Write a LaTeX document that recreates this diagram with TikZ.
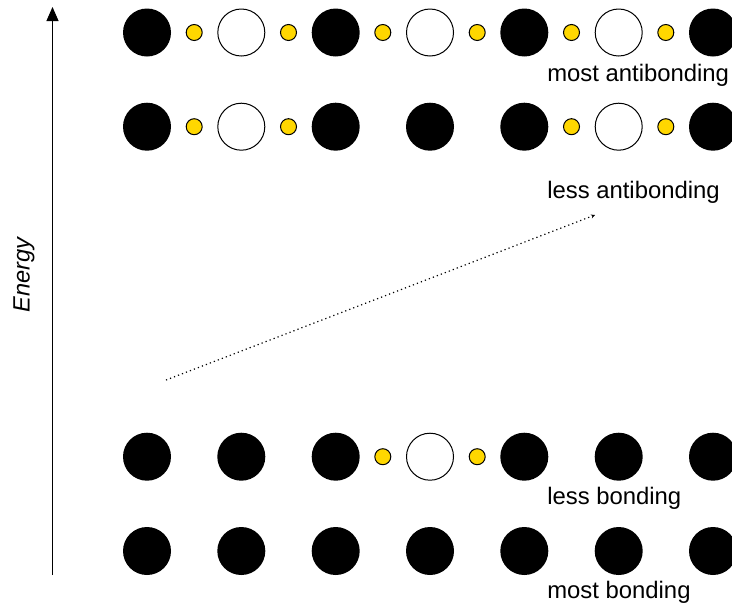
\documentclass[tikz,border=0pt]{standalone}
\usepackage{fontspec}
\setmainfont{Liberation Sans}
\usetikzlibrary{arrows.meta}
\definecolor{goldfill}{RGB}{255,215,0}

\begin{document}
\begin{tikzpicture}[x=0.75pt,y=0.75pt,yscale=-1,xscale=1,
  atomblack/.style={circle,fill=black,inner sep=0pt,minimum size=36pt},
  atomwhite/.style={circle,draw=black,fill=white,line width=0.75pt,inner sep=0pt,minimum size=35.25pt},
  bridge/.style={circle,draw=black,fill=goldfill,line width=0.75pt,inner sep=0pt,minimum size=12pt},
  lvltext/.style={anchor=base west,inner sep=0pt,font=\fontsize{17.9}{21}\selectfont}]
%set diagram to 732 x 604
\clip (0,0) rectangle (732,604);

%Energy axis
\coordinate (ebot) at (52.5,575);
\coordinate (etop) at (52.5,7);
\draw [line width=0.75pt,-{Triangle[width=9pt,length=10.5pt]}] (ebot) -- (etop);
% Text Node
\node [rotate=90,inner sep=0pt,font=\itshape\fontsize{17.7}{21}\selectfont] (energy) at (24,275) {Energy};

%Row: most antibonding
\node [atomblack] (ma1) at (147,32.5) {};
\node [bridge] (ma2) at (194.2,32.5) {};
\node [atomwhite] (ma3) at (241.3,32.5) {};
\node [bridge] (ma4) at (288.5,32.5) {};
\node [atomblack] (ma5) at (335.7,32.5) {};
\node [bridge] (ma6) at (382.8,32.5) {};
\node [atomwhite] (ma7) at (430,32.5) {};
\node [bridge] (ma8) at (477.2,32.5) {};
\node [atomblack] (ma9) at (524.3,32.5) {};
\node [bridge] (ma10) at (571.5,32.5) {};
\node [atomwhite] (ma11) at (618.7,32.5) {};
\node [bridge] (ma12) at (665.8,32.5) {};
\node [atomblack] (ma13) at (713,32.5) {};

%Row: less antibonding
\node [atomblack] (la1) at (147,126.7) {};
\node [bridge] (la2) at (194.2,126.7) {};
\node [atomwhite] (la3) at (241.3,126.7) {};
\node [bridge] (la4) at (288.5,126.7) {};
\node [atomblack] (la5) at (335.7,126.7) {};
\node [atomblack] (la7) at (430,126.7) {};
\node [atomblack] (la9) at (524.3,126.7) {};
\node [bridge] (la10) at (571.5,126.7) {};
\node [atomwhite] (la11) at (618.7,126.7) {};
\node [bridge] (la12) at (665.8,126.7) {};
\node [atomblack] (la13) at (713,126.7) {};

%Row: less bonding
\node [atomblack] (lb1) at (147,456.7) {};
\node [atomblack] (lb3) at (241.3,456.7) {};
\node [atomblack] (lb5) at (335.7,456.7) {};
\node [bridge] (lb6) at (382.8,456.7) {};
\node [atomwhite] (lb7) at (430,456.7) {};
\node [bridge] (lb8) at (477.2,456.7) {};
\node [atomblack] (lb9) at (524.3,456.7) {};
\node [atomblack] (lb11) at (618.7,456.7) {};
\node [atomblack] (lb13) at (713,456.7) {};

%Row: most bonding
\node [atomblack] (mb1) at (147,551) {};
\node [atomblack] (mb3) at (241.3,551) {};
\node [atomblack] (mb5) at (335.7,551) {};
\node [atomblack] (mb7) at (430,551) {};
\node [atomblack] (mb9) at (524.3,551) {};
\node [atomblack] (mb11) at (618.7,551) {};
\node [atomblack] (mb13) at (713,551) {};

% Text Node
\node [lvltext] (tma) at (547,81.7) {most antibonding};
% Text Node
\node [lvltext] (tla) at (547,198.3) {less antibonding};
% Text Node
\node [lvltext] (tlb) at (547,504.3) {less bonding};
% Text Node
\node [lvltext] (tmb) at (547,598.3) {most bonding};

%Dotted line
\coordinate (dlow) at (166,380);
\coordinate (dhigh) at (595,215);
\draw [line width=0.9pt,dash pattern=on 0.9pt off 2.3pt,-{Stealth[length=3pt,width=3pt]}] (dlow) -- (dhigh);

\end{tikzpicture}
\end{document}
